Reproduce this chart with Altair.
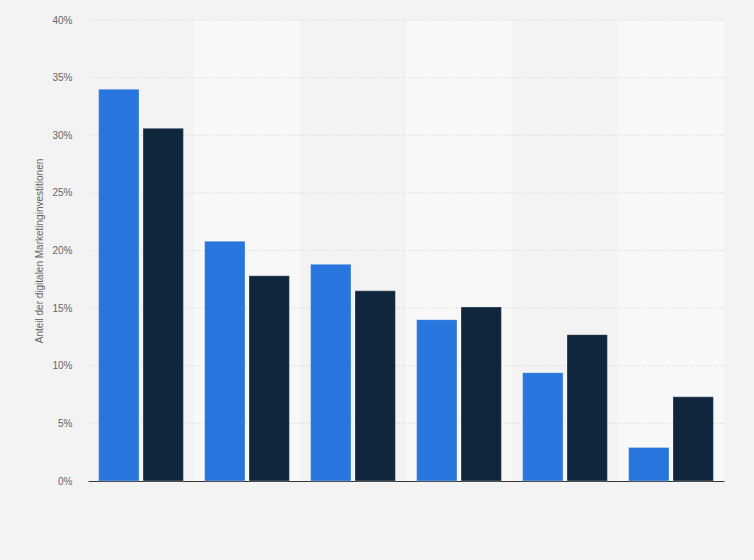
import altair as alt
import pandas as pd

categories = ["Kategorie 1", "Kategorie 2", "Kategorie 3", "Kategorie 4", "Kategorie 5", "Kategorie 6"]
series_names = ["Serie A", "Serie B"]
series_a = [34.0, 20.8, 18.8, 14.0, 9.4, 2.9]
series_b = [30.6, 17.8, 16.5, 15.1, 12.7, 7.3]
y_ticks = [0, 5, 10, 15, 20, 25, 30, 35, 40]
light_bands = ["Kategorie 2", "Kategorie 4", "Kategorie 6"]

rows = []
for c, a, b in zip(categories, series_a, series_b):
    rows.append({"cat": c, "serie": series_names[0], "wert": a})
    rows.append({"cat": c, "serie": series_names[1], "wert": b})
df = pd.DataFrame(rows)
bands = pd.DataFrame({"cat": light_bands, "top": [40] * len(light_bands)})
grid = pd.DataFrame({"v": y_ticks[1:]})

xscale = alt.Scale(domain=categories, paddingInner=0.2, paddingOuter=0.1)
yscale = alt.Scale(domain=[0, 40], nice=False)

xaxis = alt.Axis(title=None, labels=False, ticks=False,
                 domainColor="#333333", domainWidth=1.2, grid=False)

band_layer = alt.Chart(bands).mark_bar(
    width=alt.RelativeBandSize(1.25), color="#f8f8f8"
).encode(
    x=alt.X("cat:N", scale=xscale, sort=categories, axis=xaxis),
    y=alt.Y("top:Q", scale=yscale),
    y2=alt.datum(0),
)

grid_layer = alt.Chart(grid).mark_rule(
    color="#d0d0d0", strokeDash=[1, 2], strokeWidth=1
).encode(
    y=alt.Y("v:Q", scale=yscale),
)

bars = alt.Chart(df).mark_bar(
    stroke="white", strokeOpacity=0.3, strokeWidth=1
).encode(
    x=alt.X("cat:N", scale=xscale, sort=categories, axis=xaxis),
    xOffset=alt.XOffset("serie:N", sort=series_names,
                        scale=alt.Scale(paddingInner=0.09, paddingOuter=0)),
    y=alt.Y("wert:Q", scale=yscale,
            axis=alt.Axis(title="Anteil der digitalen Marketinginvestitionen",
                          values=y_ticks,
                          labelExpr="datum.value + '%'",
                          domain=False, ticks=False, grid=False,
                          labelPadding=16, labelColor="#666666", labelFontSize=10,
                          labelFont="Liberation Sans",
                          titleFont="Liberation Sans", titleFontSize=10,
                          titleFontWeight="normal", titleColor="#666666",
                          titlePadding=7)),
    color=alt.Color("serie:N", sort=series_names,
                    scale=alt.Scale(domain=series_names, range=["#2876dd", "#0f263c"]),
                    legend=None),
)

chart = alt.layer(band_layer, grid_layer, bars).properties(
    width=636, height=461,
    background="#f3f3f3",
    padding={"left": 80, "top": 12, "right": 22, "bottom": 71},
    autosize=alt.AutoSizeParams(type="none"),
).configure_view(stroke=None, fill="#f3f3f3")

chart.save("out.html", embed_options={"renderer": "svg", "actions": False})

with open("out.html", encoding="utf-8") as f:
    html = f.read()
html = html.replace("<head>", "<head><style>body{background:#f3f3f3;}</style>", 1)
with open("out.html", "w", encoding="utf-8") as f:
    f.write(html)
